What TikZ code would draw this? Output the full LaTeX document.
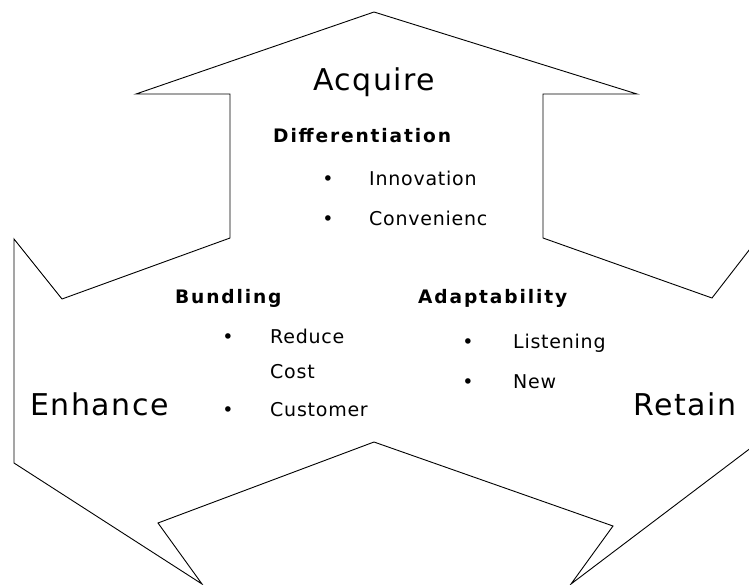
\documentclass[tikz,border=0pt]{standalone}
\usepackage{fontspec}
\setmainfont{DejaVu Sans}
\tikzset{
  outline/.style={draw=black, line width=0.9pt, line join=miter},
  big/.style={anchor=base west, inner sep=0pt, font=\fontsize{30}{36}\selectfont\addfontfeature{LetterSpace=5}},
  head/.style={anchor=base west, inner sep=0pt, font=\bfseries\fontsize{18.6}{22}\selectfont\addfontfeature{LetterSpace=10}},
  item/.style={anchor=base west, inner sep=0pt, font=\fontsize{19}{22}\selectfont\addfontfeature{LetterSpace=4}},
  bul/.style={anchor=base, inner sep=0pt, font=\fontsize{19}{22}\selectfont},
}
\begin{document}
\begin{tikzpicture}[x=1pt,y=-1pt]
\useasboundingbox (0,0) rectangle (749,584);
\begin{scope}
\clip (0,0) rectangle (749,584);
\draw[outline] (62,299) -- (230,238) -- (230,94) -- (136,94) -- (374,12) -- (637,94)
  -- (543,94) -- (543,238) -- (712,298) -- (760,236);
\draw[outline] (62,299) -- (14,239) -- (14,463) -- (202,584) -- (158,523) -- (374,442)
  -- (613,526) -- (571,584) -- (760,441);
\end{scope}
\node[big] (acq) at (313,90) {Acquire};
\node[big] (enh) at (30,415) {Enhance};
\node[big] (ret) at (633,415) {Retain};
\node[head] (dif) at (273,142) {Differentiation};
\node[bul] (b1) at (328,185) {•};
\node[item] (inn) at (369,185) {Innovation};
\node[bul] (b2) at (328,225) {•};
\node[item] (con) at (369,225) {Convenienc};
\node[head] (bun) at (175,303) {Bundling};
\node[bul] (b3) at (228,343) {•};
\node[item] (red) at (270,343) {Reduce};
\node[item] (cst) at (270,378) {Cost};
\node[bul] (b4) at (228,416) {•};
\node[item] (cus) at (270,416) {Customer};
\node[head] (ada) at (418,303) {Adaptability};
\node[bul] (b5) at (468,348) {•};
\node[item] (lis) at (513,348) {Listening};
\node[bul] (b6) at (468,388) {•};
\node[item] (new) at (513,388) {New};
\end{tikzpicture}
\end{document}
